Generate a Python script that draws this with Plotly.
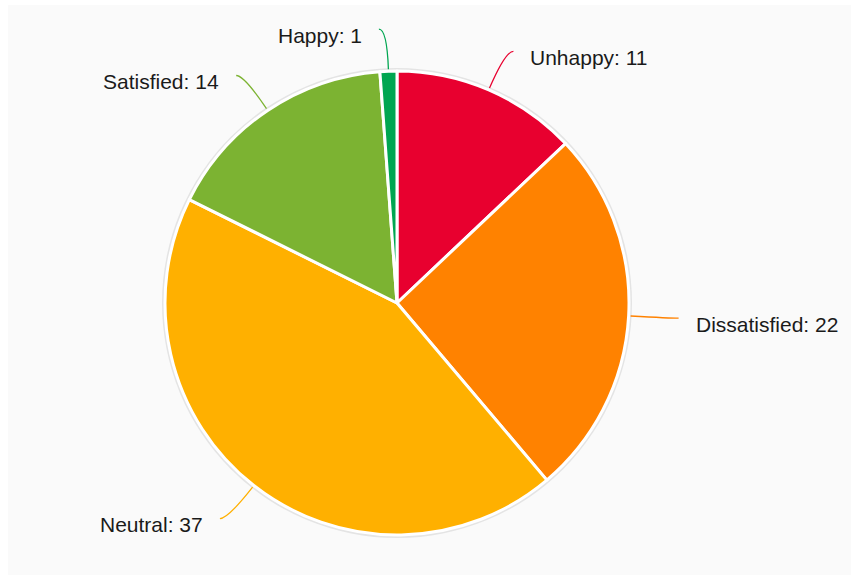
import math
import plotly.graph_objects as go

# survey answers
labels = ["Unhappy", "Dissatisfied", "Neutral", "Satisfied", "Happy"]
values = [11, 22, 37, 14, 1]
colors = ["#E8002F", "#FF8200", "#FFB000", "#7CB332", "#00A651"]

W, H = 851, 575
cx, cy, R = 397, 303, 232   # pie centre / radius in pixels

def dom(c, r, size, flip=False):
    lo, hi = (c - r) / size, (c + r) / size
    return [1 - hi, 1 - lo] if flip else [lo, hi]

fig = go.Figure()

# faint shadow ring behind the pie
fig.add_trace(go.Pie(
    values=[1], labels=["shadow"], marker=dict(colors=["#e4e4e4"]),
    domain=dict(x=dom(cx, R + 3, W), y=dom(cy, R + 3, H, flip=True)),
    textinfo="none", hoverinfo="skip", showlegend=False, sort=False,
))

fig.add_trace(go.Pie(
    labels=labels, values=values, sort=False, direction="clockwise",
    marker=dict(colors=colors, line=dict(color="white", width=3)),
    domain=dict(x=dom(cx, R, W), y=dom(cy, R, H, flip=True)),
    textinfo="none", showlegend=False,
    hovertemplate="%{label}: %{value}<extra></extra>",
))

# leader lines + labels, placed from each slice's middle angle
total = sum(values)
shapes = [dict(type="rect", xref="x", yref="y", x0=8, x1=W, y0=5, y1=H,
               fillcolor="#fafafa", line=dict(width=0), layer="below")]
annotations = []
cum = 0
for lab, v, col in zip(labels, values, colors):
    a = 2 * math.pi * (cum + v / 2) / total
    cum += v
    dx, dy = math.sin(a), -math.cos(a)
    side = 1 if dx >= 0 else -1
    x0, y0 = cx + (R + 2) * dx, cy + (R + 2) * dy
    qx, qy = cx + (R + 42) * dx, cy + (R + 42) * dy
    ex, ey = qx + 8 * side, qy
    shapes.append(dict(type="path", xref="x", yref="y",
                       path=f"M {x0:.1f},{y0:.1f} Q {qx:.1f},{qy:.1f} {ex:.1f},{ey:.1f}",
                       line=dict(color=col, width=1.3)))
    annotations.append(dict(x=ex + 15 * side, y=ey + 6, xref="x", yref="y",
                            text=f"{lab}: {v}", showarrow=False,
                            xanchor="left" if side > 0 else "right", yanchor="middle",
                            font=dict(size=21, color="#1a1a1a")))

fig.update_layout(
    width=W, height=H,
    margin=dict(l=0, r=0, t=0, b=0),
    paper_bgcolor="white", plot_bgcolor="rgba(0,0,0,0)",
    font=dict(family="Liberation Sans, Arial, sans-serif"),
    xaxis=dict(range=[0, W], visible=False, fixedrange=True),
    yaxis=dict(range=[H, 0], visible=False, fixedrange=True),
    shapes=shapes, annotations=annotations,
)

# drop the default page margin / scrollbars so the figure sits flush in the window
fig.write_html(
    "out.html",
    config={"displayModeBar": False},
    post_script="document.body.style.margin='0';"
                "document.documentElement.style.overflow='hidden';",
)
